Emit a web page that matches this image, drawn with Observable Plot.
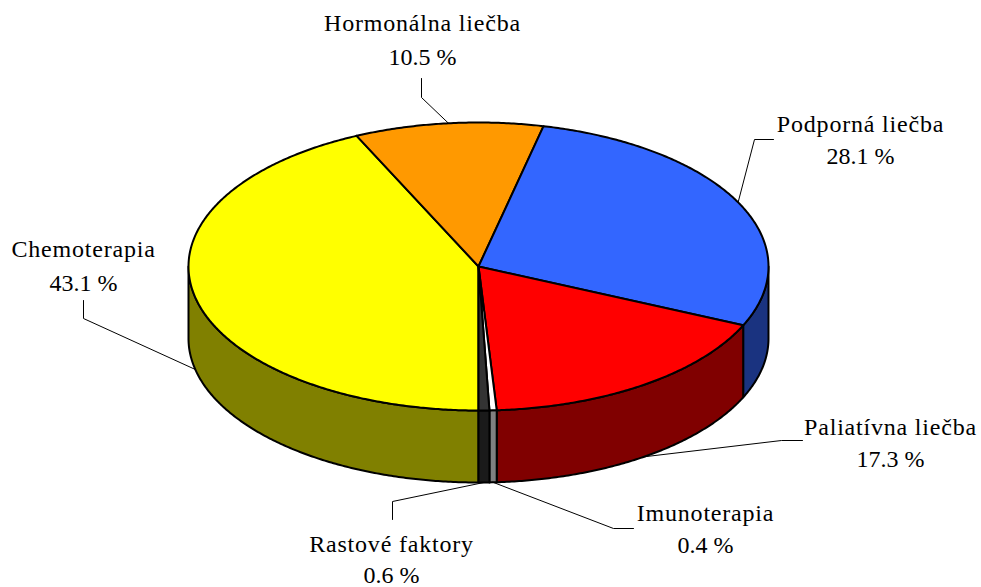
<!DOCTYPE html>
<html><head><meta charset="utf-8">
<script src="https://cdn.jsdelivr.net/npm/d3@7"></script>
<script src="https://cdn.jsdelivr.net/npm/@observablehq/plot@0.6"></script>
<style>body{margin:0;background:#fff}</style>
</head><body><div id="chart"></div>
<script>
// ---- data ----
const categories = ["Chemoterapia", "Hormonálna liečba", "Podporná liečba", "Paliatívna liečba", "Imunoterapia", "Rastové faktory"];
const values = [43.1, 10.5, 28.1, 17.3, 0.4, 0.6];
const pctLabels = ["43.1 %", "10.5 %", "28.1 %", "17.3 %", "0.4 %", "0.6 %"];

// ---- styles ----
const topColors  = ["#FFFF00", "#FF9900", "#3366FF", "#FF0000", "#FFFFFF", "#333333"];
const sideColors = ["#808000", "#804C00", "#1A3380", "#800000", "#808080", "#1A1A1A"];
const fontFam = "'Liberation Serif', 'Times New Roman', Times, serif";

// ---- layout ----
const cx = 478, cy = 266, rx = 290, ry = 144, depth = 72, startDeg = 180;
const labelLayout = [
  {x: 83,  y1: 256, y2: 290, leader: [[83, 300], [83, 318]]},
  {x: 422, y1: 30,  y2: 64,  leader: [[421, 78], [421, 97]]},
  {x: 860, y1: 131, y2: 163, leader: [[773, 139], [754, 139]]},
  {x: 890, y1: 434, y2: 466, leader: [[802, 440], [781, 440]]},
  {x: 705, y1: 520, y2: 552, leader: [[633, 528], [613, 528]]},
  {x: 391, y1: 551, y2: 582, leader: [[392, 519], [392, 501]]}
];

const rad = d => d * Math.PI / 180;
const pt = (deg, z = 0) => ({x: cx + rx * Math.sin(rad(deg)), y: cy - ry * Math.cos(rad(deg)) + z});
const total = d3.sum(values);
let acc = startDeg;
const slices = categories.map((c, i) => {
  const a0 = acc, a1 = acc + values[i] / total * 360;
  acc = a1;
  return {i, c, a0, a1, mid: (a0 + a1) / 2};
});
function arc(a0, a1, z) {
  const n = Math.max(2, Math.ceil(Math.abs(a1 - a0) / 0.5));
  return d3.range(n + 1).map(k => pt(a0 + (a1 - a0) * k / n, z));
}

const topPts = [], sidePts = [], leaderPts = [], nameRows = [], pctRows = [];
const fronts = [[90, 270], [450, 630]];
slices.forEach(s => {
  const ring = [{x: cx, y: cy}, ...arc(s.a0, s.a1, 0), {x: cx, y: cy}];
  ring.forEach(p => topPts.push({...p, key: "t" + s.i, fill: topColors[s.i]}));
  fronts.forEach(([f0, f1], j) => {
    const b0 = Math.max(s.a0, f0), b1 = Math.min(s.a1, f1);
    if (b1 > b0) {
      const poly = [...arc(b0, b1, 0), ...arc(b1, b0, depth)];
      poly.push(poly[0]);
      poly.forEach(p => sidePts.push({...p, key: "s" + s.i + "_" + j, fill: sideColors[s.i]}));
    }
  });
  const L = labelLayout[s.i];
  const front = Math.cos(rad(s.mid)) < 0;
  const end = pt(s.mid, front ? depth : 0);
  [...L.leader.map(([x, y]) => ({x, y})), end].forEach(p => leaderPts.push({...p, key: "l" + s.i}));
  nameRows.push({x: L.x, y: L.y1, text: s.c});
  pctRows.push({x: L.x, y: L.y2, text: pctLabels[s.i]});
});

const chart = Plot.plot({
  width: 981, height: 587, margin: 0,
  x: {domain: [0, 981], range: [0, 981], axis: null},
  y: {domain: [0, 587], range: [0, 587], axis: null},
  color: {type: "identity"},
  style: {background: "white", fontFamily: fontFam},
  marks: [
    Plot.line(sidePts, {x: "x", y: "y", z: "key", fill: "fill", stroke: "black", strokeWidth: 2, strokeLinejoin: "round", curve: "linear"}),
    Plot.line(topPts, {x: "x", y: "y", z: "key", fill: "fill", stroke: "black", strokeWidth: 2, strokeLinejoin: "round", curve: "linear"}),
    Plot.line(leaderPts, {x: "x", y: "y", z: "key", stroke: "black", strokeWidth: 1, curve: "linear"}),
    Plot.text(nameRows, {x: "x", y: "y", text: "text", textAnchor: "middle", lineAnchor: "bottom", fontSize: 24, fontFamily: fontFam, fill: "black"}),
    Plot.text(pctRows, {x: "x", y: "y", text: "text", textAnchor: "middle", lineAnchor: "bottom", fontSize: 24, fontFamily: fontFam, fill: "black"})
  ]
});
d3.select(chart).selectAll("text").each(function() {
  this.style.fontFamily = fontFam;
  if (!this.textContent.endsWith("%")) this.style.letterSpacing = "0.8px";
});
document.getElementById("chart").appendChild(chart);
</script>
</body></html>
